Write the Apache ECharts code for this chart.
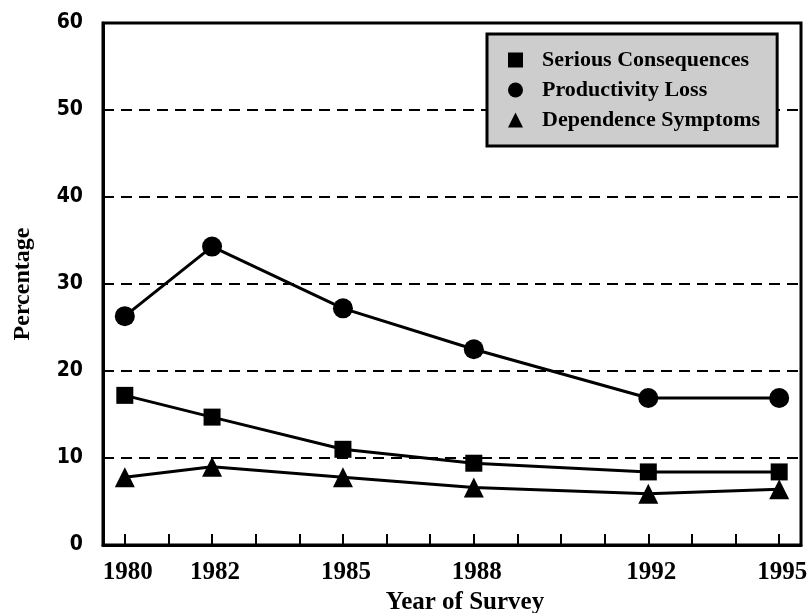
<!DOCTYPE html>
<html>
<head>
<meta charset="utf-8">
<script src="https://cdn.jsdelivr.net/npm/echarts@6/dist/echarts.min.js"></script>
<style>
  html, body { margin: 0; padding: 0; background: #fff; }
  #chart { width: 810px; height: 613px; }
</style>
</head>
<body>
<div id="chart"></div>
<script>
//Données
const years = ['1980', '1981', '1982', '1983', '1984', '1985', '1986', '1987',
               '1988', '1989', '1990', '1991', '1992', '1993', '1994', '1995'];
const surveyYears = ['1980', '1982', '1985', '1988', '1992', '1995'];
const serious = [17.2, 14.7, 11.0, 9.4, 8.4, 8.4];
const productivity = [26.3, 34.3, 27.2, 22.5, 16.9, 16.9];
const dependence = [7.8, 9.0, 7.8, 6.6, 5.9, 6.4];
const yTicks = [0, 10, 20, 30, 40, 50, 60];

const serif = '"Liberation Serif", "Times New Roman", serif';
const pairs = vals => surveyYears.map((y, i) => [y, vals[i]]);

const chart = echarts.init(document.getElementById('chart'));

function serie(name, symbol, size, vals) {
  return {
    name: name,
    type: 'line',
    symbol: symbol,
    symbolSize: size,
    lineStyle: { color: '#000', width: 3 },
    itemStyle: { color: '#000' },
    data: pairs(vals),
    z: 3
  };
}

chart.setOption({
  backgroundColor: '#fff',
  animation: false,
  grid: {
    left: 103, right: 9, top: 23, bottom: 68,
    containLabel: false, outerBoundsMode: 'none',
    show: true, borderColor: '#000', borderWidth: 3
  },
  legend: {
    orient: 'vertical',
    left: 487, top: 34,
    padding: [15, 17, 15, 21],
    itemGap: 8,
    itemWidth: 15, itemHeight: 15,
    backgroundColor: '#cdcdcd',
    borderColor: '#000', borderWidth: 3,
    textStyle: {
      fontFamily: serif, fontWeight: 'bold', fontSize: 22, color: '#000',
      padding: [0, 0, 0, 14]
    },
    data: [
      { name: 'Serious Consequences', icon: 'rect' },
      { name: 'Productivity Loss', icon: 'circle' },
      { name: 'Dependence Symptoms', icon: 'triangle' }
    ]
  },
  xAxis: {
    type: 'category',
    data: years,
    boundaryGap: true,
    name: 'Year of Survey',
    nameLocation: 'middle',
    nameGap: 42,
    nameTextStyle: {
      fontFamily: serif, fontWeight: 'bold', fontSize: 25, color: '#000',
      padding: [0, 0, 0, 26]
    },
    axisLine: { lineStyle: { color: '#000', width: 3 } },
    axisTick: {
      show: true, inside: true, alignWithLabel: true, interval: 0, length: 11,
      lineStyle: { color: '#000', width: 2 }
    },
    axisLabel: {
      interval: (i, v) => surveyYears.includes(v),
      margin: 15,
      padding: [0, 0, 0, 6],
      fontFamily: serif, fontWeight: 'bold', fontSize: 25, color: '#000'
    },
    splitLine: { show: false }
  },
  yAxis: {
    type: 'value',
    min: yTicks[0], max: yTicks[yTicks.length - 1], interval: 10,
    name: 'Percentage',
    nameLocation: 'middle',
    nameRotate: 90,
    nameGap: 68,
    nameTextStyle: { fontFamily: serif, fontWeight: 'bold', fontSize: 24, color: '#000' },
    axisLine: { show: true, lineStyle: { color: '#000', width: 3 } },
    axisTick: { show: false },
    axisLabel: {
      margin: 20,
      fontFamily: '"DejaVu Sans Condensed", "DejaVu Sans", sans-serif',
      fontWeight: 'bold', fontSize: 21, color: '#000'
    },
    splitLine: { lineStyle: { color: '#000', width: 2, type: [11, 7] } }
  },
  series: [
    serie('Serious Consequences', 'rect', 17, serious),
    serie('Productivity Loss', 'circle', 20, productivity),
    serie('Dependence Symptoms', 'triangle', 20, dependence)
  ]
});
</script>
</body>
</html>
